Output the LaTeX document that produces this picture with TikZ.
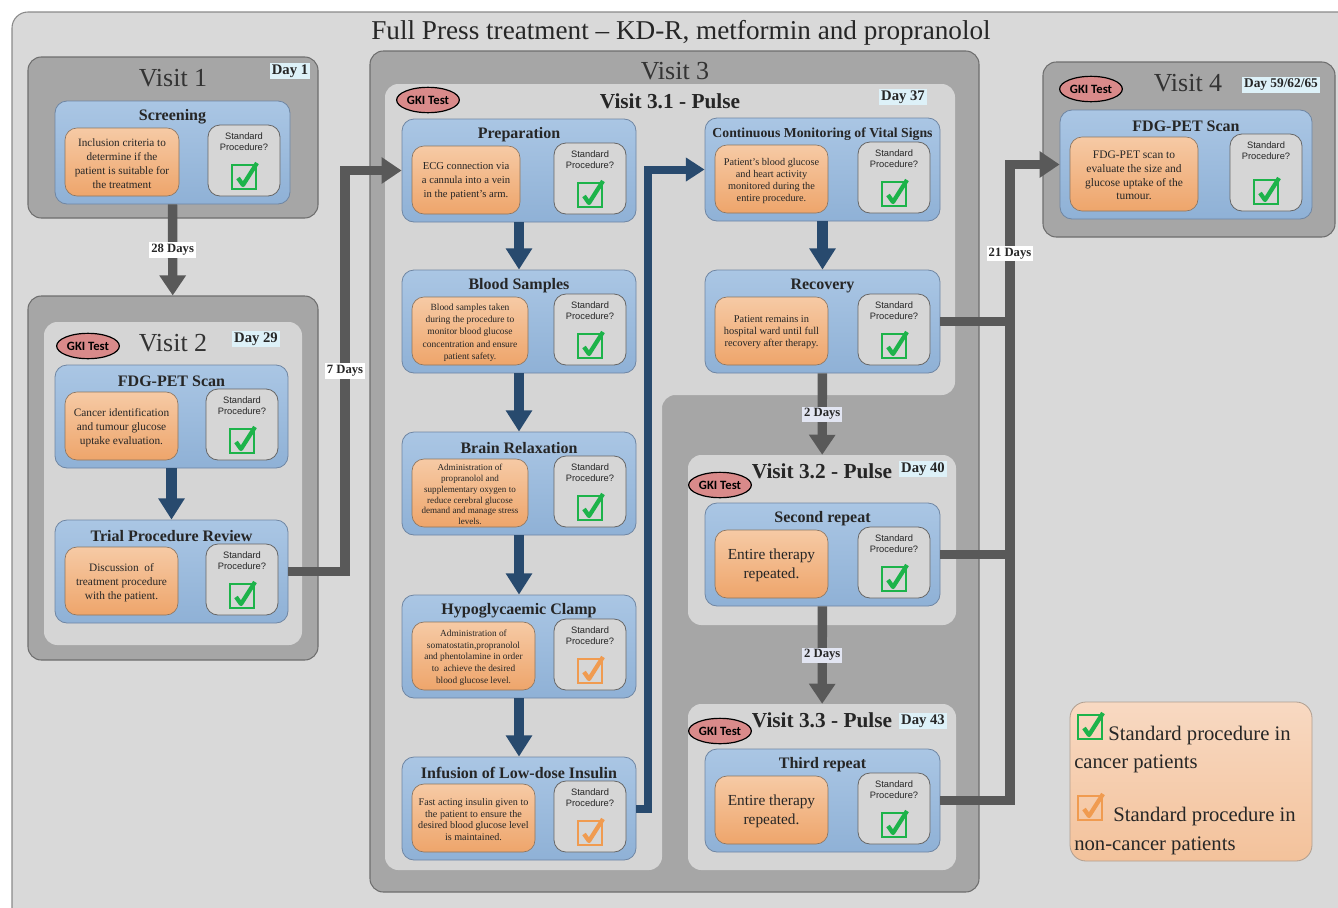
\documentclass[tikz,border=0pt]{standalone}
\usepackage{fontspec}
\setmainfont{Liberation Serif}
\setsansfont{Liberation Sans}
\newfontfamily\gkifont{Carlito}
\usetikzlibrary{arrows.meta,fit,shapes.geometric}
\definecolor{framebg}{HTML}{D9D9D9}
\definecolor{framedraw}{HTML}{8A8A8A}
\definecolor{panelgray}{HTML}{A6A6A6}
\definecolor{panellight}{HTML}{D5D5D5}
\definecolor{cardtop}{HTML}{AAC6E4}
\definecolor{cardbot}{HTML}{8FB1D6}
\definecolor{carddraw}{HTML}{6F86A3}
\definecolor{ortop}{HTML}{F6CAA5}
\definecolor{orbot}{HTML}{EEA56B}
\definecolor{ordraw}{HTML}{8C7560}
\definecolor{spfill}{HTML}{D6D6D6}
\definecolor{ckgreen}{HTML}{1DB34A}
\definecolor{ckorange}{HTML}{F09B50}
\definecolor{flownavy}{HTML}{284A6E}
\definecolor{flowgray}{HTML}{595959}
\definecolor{gkired}{HTML}{D98A8A}
\definecolor{daycyan}{HTML}{DDF1F8}
\definecolor{gaplav}{HTML}{E2E5F2}
\definecolor{legtop}{HTML}{F8D9C2}
\definecolor{legbot}{HTML}{F3C29B}

\tikzset{
  framebox/.style={draw=framedraw, line width=0.8pt, fill=framebg, rounded corners=12pt, inner sep=0pt},
  panel/.style={draw=framedraw!80!black, line width=0.8pt, fill=panelgray, rounded corners=10pt, inner sep=0pt},
  lightpanel/.style={fill=panellight, rounded corners=10pt, inner sep=0pt},
  bluecard/.style={draw=carddraw, line width=0.6pt, top color=cardtop, bottom color=cardbot, rounded corners=9pt, inner sep=0pt},
  orangebox/.style={draw=ordraw, line width=0.5pt, top color=ortop, bottom color=orbot, rounded corners=9pt, inner sep=0pt},
  orangetext/.style={align=center, inner sep=0pt, text=black!85},
  spbox/.style={draw=black!60, line width=0.6pt, fill=spfill, rounded corners=9pt, inner sep=0pt},
  cardtitle/.style={font=\fontsize{12}{14}\selectfont\bfseries, text=black!85, inner sep=0pt},
  splabel/.style={font=\sffamily\fontsize{7}{8.3}\selectfont, align=center, inner sep=0pt, text=black!85},
  visithead/.style={font=\fontsize{19.5}{22}\selectfont, text=black!80, inner sep=0pt},
  pulsehead/.style={font=\fontsize{16}{18}\selectfont\bfseries, text=black!85, inner sep=0pt},
  daytag/.style={fill=daycyan, font=\fontsize{11}{13}\selectfont\bfseries, inner sep=1.5pt, text=black!85},
  gaptag/.style={fill=white, font=\fontsize{9.5}{11}\selectfont\bfseries, inner sep=1.5pt, text=black!85},
  gki/.style={ellipse, draw=black, line width=0.9pt, fill=gkired, minimum width=47pt, minimum height=19pt, inner sep=0pt, font=\gkifont\bfseries\fontsize{9.5}{10}\selectfont},
  navyarrow/.style={draw=flownavy, line width=8pt, -{Triangle[width=19pt,length=16pt]}},
  navyline/.style={draw=flownavy, line width=6pt, -{Triangle[width=17pt,length=14pt]}},
  grayarrow/.style={draw=flowgray, line width=7pt, -{Triangle[width=19pt,length=15pt]}},
  grayline/.style={draw=flowgray, line width=7pt},
  legendbox/.style={draw=ordraw!70, line width=0.6pt, top color=legtop, bottom color=legbot, rounded corners=12pt, inner sep=0pt},
  legtext/.style={font=\fontsize{15.5}{18}\selectfont, inner sep=0pt, text=black!85},
  pics/chkmark/.style={code={
    \draw[draw=#1, line width=2pt] (-12,-12) rectangle (12,12);
    \draw[draw=#1, line width=3.2pt, line join=round] (-6,1) -- (-1,8) -- (13,-14);
  }}
}

% card: name, x, y, width, title, text, orange width, check colour, text font
\def\cardht{103}
\newcommand\stepcard[9]{%
  \node[bluecard, fit={(#2,#3) ({#2+#4},{#3+\cardht})}] (#1) {};
  \node[cardtitle] (#1-head) at ({#2+#4/2},{#3+16}) {#5};
  \node[orangebox, fit={({#2+10},{#3+27}) ({#2+10+#7},{#3+\cardht-8})}] (#1-box) {};
  \node[orangetext, font=#9] (#1-txt) at ([yshift=-1.2pt]#1-box.center) {#6};
  \node[spbox, fit={({#2+#4-82},{#3+24}) ({#2+#4-10},{#3+\cardht-8})}] (#1-sp) {};
  \node[splabel] at ({#2+#4-46},{#3+41}) {Standard\\Procedure?};
  \pic at ({#2+#4-46},{#3+\cardht-27}) {chkmark=#8};
}

\begin{document}
\begin{tikzpicture}[x=0.75pt,y=-0.75pt]
\useasboundingbox (0,0) rectangle (1338,907);
% Outer frame and heading
\node[framebox, fit={(12,12) (1360,930)}] (frame) {};
\node[font=\fontsize{20.4}{24}\selectfont, text=black!85] (title) at (681,33) {Full Press treatment -- KD-R, metformin and propranolol};

% Visit 1
\node[panel, fit={(28,57) (318,218)}] (v1) {};
\node[visithead] at (173,78) {Visit 1};
\node[daytag] at (290,71) {Day 1};
\stepcard{scr}{55}{101}{235}{Screening}{Inclusion criteria to\\determine if the\\patient is suitable for\\the treatment}{114}{ckgreen}{\fontsize{8.4}{10.5}\selectfont}

% Visit 2
\node[panel, fit={(28,296) (318,660)}] (v2) {};
\node[lightpanel, fit={(44,322) (302,645)}] (v2in) {};
\node[visithead] at (173,343) {Visit 2};
\node[gki] (gki2) at (88,346) {GKI Test};
\node[daytag] at (256,339) {Day 29};
\stepcard{fdg2}{55}{365}{233}{FDG-PET Scan}{Cancer identification\\and tumour glucose\\uptake evaluation.}{113}{ckgreen}{\fontsize{8.5}{10.5}\selectfont}
\stepcard{trial}{55}{520}{233}{Trial Procedure Review}{Discussion~ of\\treatment procedure\\with the patient.}{113}{ckgreen}{\fontsize{8.5}{10.5}\selectfont}
\draw[navyarrow] (fdg2) -- (trial);
\draw[grayarrow] (scr) -- node[gaptag] {28 Days} (v2);

% Visit 3
\node[panel, fit={(370,51) (979,892)}] (v3) {};
\node[visithead] at (675,71) {Visit 3};
% Visit 3.1 area
\fill[panellight, rounded corners=10pt] (385,84) -- (955,84) -- (955,395) -- (662,395) -- (662,870) -- (385,870) -- cycle;
\node[gki] (gki31) at (428,100) {GKI Test};
\node[pulsehead] at (670,101) {Visit 3.1 - Pulse};
\node[daytag] at (903,97) {Day 37};
\foreach \nm/\yy/\ttl/\txt/\ow/\ck/\fs in {
  prep/119/Preparation/{ECG connection via\\a cannula into a vein\\in the patient's arm.}/108/ckgreen/{\fontsize{8}{10.5}\selectfont},
  blood/270/Blood Samples/{Blood samples taken\\during the procedure to\\monitor blood glucose\\concentration and ensure\\patient safety.}/116/ckgreen/{\fontsize{7.1}{9.2}\selectfont},
  brain/432/Brain Relaxation/{Administration of\\propranolol and\\supplementary oxygen to\\reduce cerebral glucose\\demand and manage stress\\levels.}/116/ckgreen/{\fontsize{6.8}{8.1}\selectfont},
  hypo/595/Hypoglycaemic Clamp/{Administration of\\somatostatin,propranolol\\and phentolamine in order\\to~ achieve the desired\\blood glucose level.}/123/ckorange/{\fontsize{7}{8.8}\selectfont},
  inf/757/Infusion of Low-dose Insulin/{Fast acting insulin given to\\the patient to ensure the\\desired blood glucose level\\is maintained.}/123/ckorange/{\fontsize{7.6}{8.8}\selectfont}}
  \stepcard{\nm}{402}{\yy}{234}{\ttl}{\txt}{\ow}{\ck}{\fs};
\foreach \a/\b in {prep/blood, blood/brain, brain/hypo, hypo/inf}
  \draw[navyarrow] (\a) -- (\b);
\stepcard{cont}{705}{118}{235}{\fontsize{10.3}{12}\selectfont Continuous Monitoring of Vital Signs}{Patient's blood glucose\\and heart activity\\monitored during the\\entire procedure.}{113}{ckgreen}{\fontsize{7.7}{9}\selectfont}
\stepcard{rec}{705}{270}{235}{Recovery}{Patient remains in\\hospital ward until full\\recovery after therapy.}{113}{ckgreen}{\fontsize{7.8}{9}\selectfont}
\draw[navyarrow] (cont) -- (rec);
\coordinate (jblue) at (648,0);
\draw[navyline] (inf.east) -- (inf.east -| jblue) -- (jblue |- cont.west) -- (cont.west);

% Visit 3.2
\node[lightpanel, fit={(688,455) (956,625)}] (v32) {};
\node[pulsehead] at (822,471) {Visit 3.2 - Pulse};
\node[gki] (gki32) at (720,485) {GKI Test};
\node[daytag] at (923,469) {Day 40};
\stepcard{rep2}{705}{503}{235}{Second repeat}{Entire therapy\\repeated.}{113}{ckgreen}{\fontsize{11.5}{14.3}\selectfont}
\draw[grayarrow] (rec) -- node[gaptag, fill=gaplav] {2 Days} (v32);

% Visit 3.3
\node[lightpanel, fit={(688,704) (956,870)}] (v33) {};
\node[pulsehead] at (822,720) {Visit 3.3 - Pulse};
\node[gki] (gki33) at (720,731) {GKI Test};
\node[daytag] at (923,721) {Day 43};
\stepcard{rep3}{705}{749}{235}{Third repeat}{Entire therapy\\repeated.}{113}{ckgreen}{\fontsize{11.5}{14.3}\selectfont}
\draw[grayarrow] (rep2) -- node[gaptag, fill=gaplav] {2 Days} (v33);

% 7 Days link
\coordinate (j7) at (345,0);
\draw[grayarrow] (trial.east) -- (trial.east -| j7) -- node[gaptag] {7 Days} (j7 |- prep.west) -- (prep.west);

% Visit 4
\node[panel, fit={(1043,62) (1335,237)}] (v4) {};
\node[visithead] at (1188,83) {Visit 4};
\node[gki] (gki4) at (1091,89) {GKI Test};
\node[daytag, font=\fontsize{10}{12}\selectfont\bfseries] at (1281,85) {Day 59/62/65};
\def\cardht{109}
\stepcard{fdg4}{1060}{110}{252}{FDG-PET Scan}{FDG-PET scan to\\evaluate the size and\\glucose uptake of the\\tumour.}{128}{ckgreen}{\fontsize{8.6}{10.3}\selectfont}

% 21 Days link
\coordinate (j21) at (1010,0);
\draw[grayline] (rec.east) -- (rec.east -| j21);
\draw[grayline] (rep2.east) -- (rep2.east -| j21);
\draw[grayarrow] (rep3.east) -- (rep3.east -| j21) -- node[pos=0.86, gaptag] {21 Days} (j21 |- fdg4.west) -- (fdg4.west);

% Legend
\node[legendbox, fit={(1070,702) (1312,861)}] (legend) {};
\pic at (1090,727) {chkmark=ckgreen};
\node[legtext, anchor=base west] (leg1a) at (1108,740) {Standard procedure in};
\node[legtext, anchor=base west] (leg1b) at (1074,768) {cancer patients};
\pic at (1090,808) {chkmark=ckorange};
\node[legtext, anchor=base west] (leg2a) at (1113,821) {Standard procedure in};
\node[legtext, anchor=base west] (leg2b) at (1074,850) {non-cancer patients};
\end{tikzpicture}
\end{document}
